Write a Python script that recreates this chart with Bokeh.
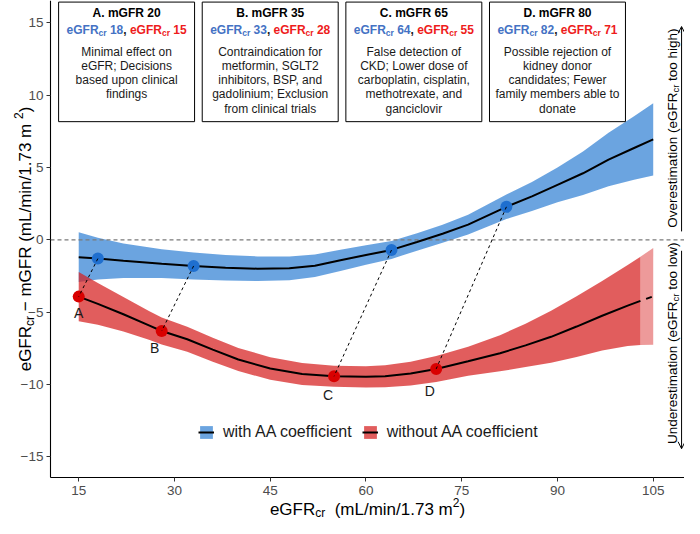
import numpy as np
from bokeh.plotting import figure
from bokeh.models import (ColumnDataSource, Label, Arrow, OpenHead, Legend, Grid,
                          LegendItem, FixedTicker, Range1d, LinearAxis)
from bokeh.core.properties import value
from bokeh.embed import file_html
from bokeh.resources import INLINE

FONT = "Liberation Sans"

# ---------------- data ----------------
x_with = [15, 18, 22, 28, 33, 38, 43, 48, 52, 56, 60, 64, 68, 72, 76, 82, 86, 90, 94, 98, 102, 105]
fit_with = [-1.20, -1.30, -1.45, -1.65, -1.81, -1.93, -2.00, -1.97, -1.80, -1.42, -1.05, -0.70,
            -0.15, 0.42, 1.05, 2.28, 3.00, 3.80, 4.60, 5.55, 6.35, 6.94]
hi_with = [0.52, 0.15, -0.25, -0.65, -0.88, -1.05, -1.15, -1.15, -1.02, -0.68, -0.37, -0.08,
           0.45, 1.04, 1.73, 3.13, 4.00, 5.00, 6.10, 7.40, 8.55, 9.44]
lo_with = [-2.92, -2.75, -2.65, -2.65, -2.74, -2.81, -2.85, -2.79, -2.58, -2.16, -1.73, -1.32,
           -0.75, -0.20, 0.37, 1.43, 2.00, 2.60, 3.10, 3.70, 4.15, 4.44]

x_without = [15, 18, 22, 26, 28, 32, 36, 40, 45, 50, 55, 60, 63, 67, 71, 76, 81, 85, 89, 93, 97, 101, 103, 105]
fit_without = [-3.93, -4.43, -5.15, -5.92, -6.31, -6.88, -7.60, -8.28, -8.90, -9.28, -9.44, -9.48,
               -9.44, -9.25, -8.93, -8.40, -7.85, -7.30, -6.71, -6.00, -5.25, -4.55, -4.22, -3.91]
hi_without = [-2.23, -2.98, -3.95, -4.92, -5.38, -6.01, -6.77, -7.48, -8.12, -8.52, -8.71, -8.74,
              -8.68, -8.43, -8.03, -7.40, -6.60, -5.80, -4.91, -3.90, -2.85, -1.75, -1.17, -0.56]
lo_without = [-5.63, -5.88, -6.35, -6.92, -7.24, -7.75, -8.43, -9.08, -9.68, -10.04, -10.17, -10.22,
              -10.20, -10.07, -9.83, -9.40, -9.10, -8.80, -8.51, -8.10, -7.65, -7.35, -7.27, -7.26]
extrap_from = 103  # where the "without" curve becomes the light extrapolated part

case_labels = ["A", "B", "C", "D"]
mgfr = [20, 35, 65, 80]
egfr_with = [18, 33, 64, 82]
bias_with = [-1.30, -1.81, -0.71, 2.28]
egfr_without = [15, 28, 55, 71]
bias_without = [-3.93, -6.31, -9.44, -8.93]

box_body = [
    ["Minimal effect on", "eGFR; Decisions", "based upon clinical", "findings"],
    ["Contraindication for", "metformin, SGLT2", "inhibitors, BSP, and", "gadolinium; Exclusion", "from clinical trials"],
    ["False detection of", "CKD; Lower dose of", "carboplatin, cisplatin,", "methotrexate, and", "ganciclovir"],
    ["Possible rejection of", "kidney donor", "candidates; Fewer", "family members able to", "donate"],
]

x_ticks = [15, 30, 45, 60, 75, 90, 105]
y_ticks = [-15, -10, -5, 0, 5, 10, 15]

# ---------------- layout constants ----------------
W, H = 684, 518
PAD_L, PAD_B = 50, 41          # room for the axes inside the canvas
X0, X1 = 10.58, 109.9          # panel extent (data)
Y0, Y1 = -16.44, 16.55
SX = (W - PAD_L) / (X1 - X0)   # px per data unit
SY = (H - PAD_B) / (Y1 - Y0)
XR0 = X0 - PAD_L / SX
YR0 = Y0 - PAD_B / SY

box_center = [22.5, 45.0, 67.5, 90.0]
box_half = 10.65
box_top, box_bottom = 16.44, 8.17
title_y, line2_base_y = 15.70, 14.52
body_y0, body_dy = 13.0, 0.98
letter_off = [(0, -16), (-7, -16.5), (-6, -19), (-6.5, -22.5)]

BLUE_FILL = "#4a90d9"
RED_FILL = "#d61e1e"
BLUE_PT = "#1f6fcf"
RED_PT = "#d90000"
BLUE_TXT = "#4472c4"
RED_TXT = "#ee1c1c"

# Arial / Liberation Sans advance widths (1/1000 em)
W_REG = {' ': 278, '(': 333, ')': 333, ',': 278, '-': 333, '.': 278, '/': 278, ';': 278, ':': 278,
         '\u2212': 584}
for d in "0123456789":
    W_REG[d] = 556
W_REG.update(dict(A=667, B=667, C=722, D=722, E=667, F=611, G=778, H=722, I=278, J=500, K=667, L=556,
                  M=833, N=722, O=778, P=667, Q=778, R=722, S=667, T=611, U=722, V=667, W=944, X=667,
                  Y=667, Z=611))
W_REG.update(dict(a=556, b=556, c=500, d=556, e=556, f=278, g=556, h=556, i=222, j=222, k=500, l=222,
                  m=833, n=556, o=556, p=556, q=556, r=333, s=500, t=278, u=556, v=500, w=722, x=500,
                  y=500, z=500))
W_BOLD = {' ': 278, ',': 278, '.': 278}
for d in "0123456789":
    W_BOLD[d] = 556
W_BOLD.update(dict(A=722, B=722, C=722, D=722, F=611, G=778, R=722, L=611, e=556, c=556, r=389, m=889))


def text_width(s, size, bold=False):
    tbl = W_BOLD if bold else W_REG
    return sum(tbl.get(ch, 556) for ch in s) * size / 1000.0


def place_pieces(p, x, y, pieces, base_dx=0.0, base_dy=0.0, vertical=False):
    """pieces: (text, size, bold, baseline_shift_px, color); centred on (x, y)."""
    widths = [text_width(t, s, b) for t, s, b, _, _ in pieces]
    cum = -sum(widths) / 2.0
    for (t, s, b, sh, c), w in zip(pieces, widths):
        lead = len(t) - len(t.lstrip(" "))
        off = cum + text_width(" " * lead, s, b)
        txt = t.strip(" ")
        kw = dict(x=x, y=y, text=txt, text_font=FONT, text_font_size=f"{s}px",
                  text_font_style="bold" if b else "normal", text_color=c,
                  text_align="left", text_baseline="alphabetic")
        if vertical:
            lab = Label(x_offset=base_dx - sh, y_offset=base_dy + off, angle=np.pi / 2, **kw)
        else:
            lab = Label(x_offset=base_dx + off, y_offset=base_dy + sh, **kw)
        p.add_layout(lab)
        cum += w


# ---------------- figure ----------------
p = figure(width=W, height=H, output_backend="svg", toolbar_location=None,
           x_range=Range1d(XR0, X1), y_range=Range1d(YR0, Y1),
           x_axis_location=None, y_axis_location=None, min_border=0)
p.outline_line_color = None
p.background_fill_color = "white"
for r in list(p.center):
    if isinstance(r, Grid):
        r.visible = False

xaxis = LinearAxis(fixed_location=Y0, bounds=(X0, X1), ticker=FixedTicker(ticks=x_ticks))
yaxis = LinearAxis(fixed_location=X0, bounds=(Y0, Y1), ticker=FixedTicker(ticks=y_ticks))
for ax in (xaxis, yaxis):
    ax.axis_line_color = "black"
    ax.axis_line_width = 1.1
    ax.major_tick_line_color = "#333333"
    ax.major_tick_out = 4
    ax.major_tick_in = 0
    ax.minor_tick_line_color = None
    ax.major_label_text_font = FONT
    ax.major_label_text_font_size = "13.5px"
    ax.major_label_text_color = "#4d4d4d"
xaxis.major_label_standoff = 4
yaxis.major_label_standoff = 3
p.add_layout(xaxis, "below")
p.add_layout(yaxis, "left")

# bands
blue_band = p.varea(x=x_with, y1=lo_with, y2=hi_with, fill_color=BLUE_FILL, fill_alpha=0.82)
xr = np.array(x_without, dtype=float)
fr = np.array(fit_without)
hr = np.array(hi_without)
lr = np.array(lo_without)
main = xr <= extrap_from
ext = xr >= extrap_from
red_band = p.varea(x=xr[main], y1=lr[main], y2=hr[main], fill_color=RED_FILL, fill_alpha=0.72)
p.varea(x=xr[ext], y1=lr[ext], y2=hr[ext], fill_color=RED_FILL, fill_alpha=0.45)

# zero reference line (panel width only)
p.line(x=[X0, X1], y=[0, 0], line_color="#7a7a7a", line_dash="4 3", line_width=1.2)

# fitted lines
blue_line = p.line(x_with, fit_with, line_color="black", line_width=2)
red_line = p.line(xr[main], fr[main], line_color="black", line_width=2)
p.line(xr[ext], fr[ext], line_color="black", line_width=2, line_dash="6 6", line_dash_offset=6)

# points and connectors
p.scatter(egfr_with, bias_with, size=12, fill_color=BLUE_PT, line_color=None)
p.scatter(egfr_without, bias_without, size=12, fill_color=RED_PT, line_color=None)
p.segment(x0=egfr_with, y0=bias_with, x1=egfr_without, y1=bias_without,
          line_color="black", line_dash="3 3", line_width=1)

for lab, xv, yv, (dx, dy) in zip(case_labels, egfr_without, bias_without, letter_off):
    p.add_layout(Label(x=xv, y=yv, x_offset=dx, y_offset=dy, text=lab, text_font=FONT,
                       text_font_size="14px", text_color="#1a1a1a", text_align="center",
                       text_baseline="middle"))

# boxes
p.quad(left=[c - box_half for c in box_center], right=[c + box_half for c in box_center],
       top=box_top, bottom=box_bottom, fill_color="white", line_color="black", line_width=1)

title_src = ColumnDataSource(dict(x=box_center, y=[title_y] * 4,
                                  text=[f"{c}. mGFR {m}" for c, m in zip(case_labels, mgfr)]))
p.text(x="x", y="y", text="text", source=title_src, text_font=value(FONT), text_font_size="12px",
       text_font_style="bold", text_color="black", text_align="center", text_baseline="middle")

bx, by, bt = [], [], []
for c, lines in zip(box_center, box_body):
    for i, ln in enumerate(lines):
        bx.append(c)
        by.append(body_y0 - body_dy * i)
        bt.append(ln)
p.text(x="x", y="y", text="text", source=ColumnDataSource(dict(x=bx, y=by, text=bt)),
       text_font=value(FONT), text_font_size="12px", text_color="#1a1a1a",
       text_align="center", text_baseline="middle")

for c, ew, eo in zip(box_center, egfr_with, egfr_without):
    place_pieces(p, c, line2_base_y, [
        ("eGFR", 12, True, 0, BLUE_TXT), ("cr", 8.5, True, -3, BLUE_TXT), (f" {ew}", 12, True, 0, BLUE_TXT),
        (",", 12, True, 0, "#1a1a1a"),
        (" eGFR", 12, True, 0, RED_TXT), ("cr", 8.5, True, -3, RED_TXT), (f" {eo}", 12, True, 0, RED_TXT),
    ])

# right-hand annotations with arrows
place_pieces(p, 108.0, 7.73, [
    ("Overestimation (eGFR", 13.5, False, 0, "black"), ("cr", 9.5, False, -3, "black"),
    (" too high)", 13.5, False, 0, "black")], vertical=True)
place_pieces(p, 108.0, -7.16, [
    ("Underestimation (eGFR", 13.5, False, 0, "black"), ("cr", 9.5, False, -3, "black"),
    (" too low)", 13.5, False, 0, "black")], vertical=True)
p.add_layout(Arrow(end=OpenHead(size=7, line_width=1, line_color="black"), line_width=1,
                   line_color="black", x_start=109.44, y_start=0.58, x_end=109.44, y_end=14.75))
p.add_layout(Arrow(end=OpenHead(size=7, line_width=1, line_color="black"), line_width=1,
                   line_color="black", x_start=109.44, y_start=-0.76, x_end=109.44, y_end=-14.45))

# axis titles (composed so that sub/superscripts are real text)
place_pieces(p, (X0 + X1) / 2, Y0, [
    ("eGFR", 17, False, 0, "black"), ("cr", 12, False, -3.5, "black"),
    ("  (mL/min/1.73 m", 17, False, 0, "black"), ("2", 12, False, 7, "black"),
    (")", 17, False, 0, "black")], base_dy=-31.5)
place_pieces(p, X0, (Y0 + Y1) / 2, [
    ("eGFR", 17, False, 0, "black"), ("cr", 12, False, -4, "black"),
    (" \u2212 mGFR  (mL/min/1.73 m", 17, False, 0, "black"), ("2", 12, False, 7, "black"),
    (")", 17, False, 0, "black")], base_dx=-25, vertical=True)

# legend
legend = Legend(items=[LegendItem(label="with AA coefficient", renderers=[blue_band, blue_line]),
                       LegendItem(label="without AA coefficient", renderers=[red_band, red_line])],
                location=(148 + PAD_L, 36 + PAD_B), orientation="horizontal")
legend.padding = 0
legend.margin = 0
legend.spacing = 10
legend.label_standoff = 9
legend.glyph_width = 16
legend.glyph_height = 16
legend.label_text_font = FONT
legend.label_text_font_size = "16px"
legend.label_text_color = "#1a1a1a"
legend.background_fill_alpha = 0
legend.border_line_color = None
p.add_layout(legend)

open("out.html", "w").write(file_html(p, INLINE))
